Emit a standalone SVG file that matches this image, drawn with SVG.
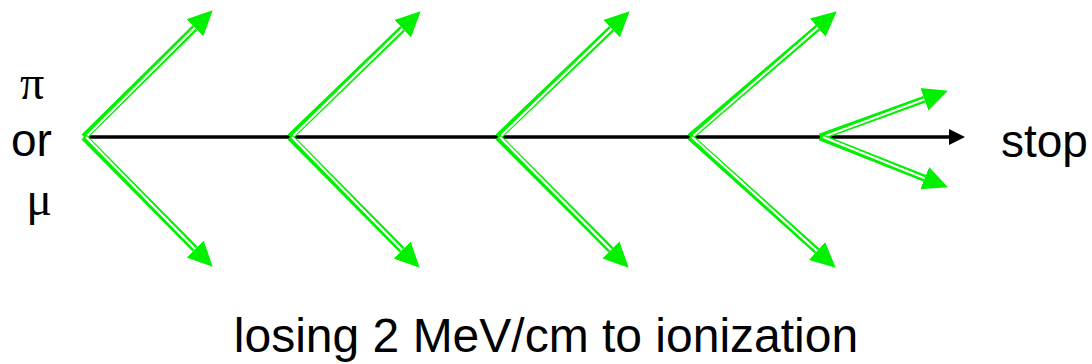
<svg xmlns="http://www.w3.org/2000/svg" width="1092" height="364" viewBox="0 0 1092 364">
<defs>
<style>
.g{stroke:#00f000;stroke-width:7;fill:none;marker-end:url(#gh)}
.w{stroke:#ffffff;stroke-width:2.2;fill:none}
.t{font-family:"Liberation Sans",Arial,sans-serif;font-size:46px;fill:#000}
.s{font-family:"Liberation Serif","Times New Roman",serif;font-size:48px;fill:#000}
</style>
<marker id="gh" markerUnits="userSpaceOnUse" markerWidth="30" markerHeight="30" refX="0" refY="12" orient="auto" viewBox="0 0 30 24">
<path d="M0,0 L25,12 L0,24 z" fill="#00f000"/>
</marker>
<marker id="bh" markerUnits="userSpaceOnUse" markerWidth="20" markerHeight="20" refX="0" refY="8" orient="auto" viewBox="0 0 20 16">
<path d="M0,0 L16,8 L0,16 z" fill="#000"/>
</marker>
</defs>
<g id="connectors">
<line x1="84" y1="137" x2="949" y2="137" stroke="#000" stroke-width="3.5" marker-end="url(#bh)"/>
<g id="shower1">
<path class="g" d="M84,137 L194.9,27.8"/><path class="w" d="M86,137 L194.9,27.8"/>
<path class="g" d="M84,137 L195.1,249"/><path class="w" d="M86,137 L195.1,249"/>
</g>
<g id="shower2">
<path class="g" d="M290,137 L402.7,28.6"/><path class="w" d="M292,137 L402.7,28.6"/>
<path class="g" d="M290,137 L402.1,250"/><path class="w" d="M292,137 L402.1,250"/>
</g>
<g id="shower3">
<path class="g" d="M498,137 L611.6,28.6"/><path class="w" d="M500,137 L611.6,28.6"/>
<path class="g" d="M498,137 L611,250"/><path class="w" d="M500,137 L611,250"/>
</g>
<g id="shower4">
<path class="g" d="M690,137 L817.8,27.6"/><path class="w" d="M692,137 L817.8,27.6"/>
<path class="g" d="M690,137 L817.1,251"/><path class="w" d="M692,137 L817.1,251"/>
</g>
<g id="shower5">
<path class="g" d="M820,137 L924.4,99.2"/><path class="w" d="M823,137 L924.4,99.2"/>
<path class="g" d="M820,137 L924.7,178.2"/><path class="w" d="M823,137 L924.7,178.2"/>
</g>
</g>
<g id="particle">
<text class="s" x="32" y="99" text-anchor="middle">π</text>
<text class="t" x="11" y="156">or</text>
<text class="s" x="39" y="215" text-anchor="middle">μ</text>
</g>
<g id="stop"><text class="t" x="1001" y="157">stop</text></g>
<g id="caption"><text class="t" x="546" y="352" text-anchor="middle" style="font-size:48px">losing 2 MeV/cm to ionization</text></g>
</svg>
